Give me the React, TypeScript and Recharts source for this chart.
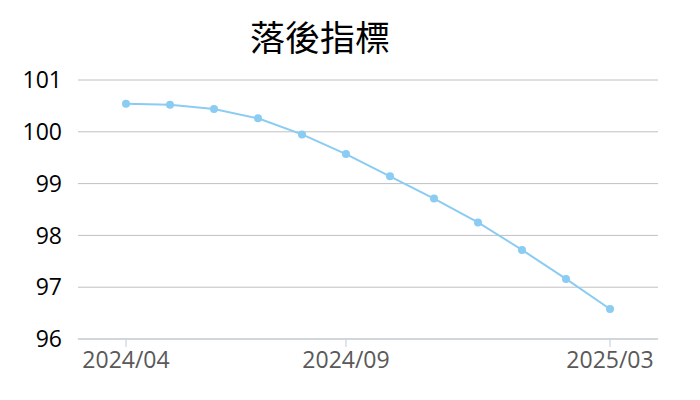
import { LineChart, Line, XAxis, YAxis, CartesianGrid } from "recharts";

const months = [
  "2024/04", "2024/05", "2024/06", "2024/07", "2024/08", "2024/09",
  "2024/10", "2024/11", "2024/12", "2025/01", "2025/02", "2025/03",
];
const lagging = [100.54, 100.52, 100.44, 100.26, 99.95, 99.57, 99.14, 98.71, 98.25, 97.72, 97.16, 96.58];
const xTicks = ["2024/04", "2024/09", "2025/03"];
const yTicks = [96, 97, 98, 99, 100, 101];

const data = months.map((m, i) => ({ month: m, value: lagging[i] }));

export default function App() {
  return (
    <div style={{ position: "absolute", left: 0, top: 0, width: 700, height: 400, background: "#fff" }}>
      <div
        style={{
          position: "absolute",
          left: 0,
          width: 640,
          top: 10,
          textAlign: "center",
          fontFamily: "'Noto Sans CJK TC', sans-serif",
          fontSize: 35,
          color: "#000",
        }}
      >
        落後指標
      </div>
      <LineChart width={700} height={400} data={data} margin={{ top: 80, right: 42, bottom: 26, left: 0 }}>
        <CartesianGrid vertical={false} stroke="#c0c0c0" />
        <XAxis
          dataKey="month"
          ticks={xTicks}
          padding={{ left: 48, right: 48 }}
          stroke="#c3cddb"
          tickSize={8}
          tickMargin={5}
          height={35}
          tick={{ fill: "#595959", fontSize: 23, fontFamily: "'Open Sans', sans-serif" }}
        />
        <YAxis
          domain={[96, 101]}
          ticks={yTicks}
          axisLine={false}
          tickLine={false}
          tickMargin={10}
          width={78}
          tick={{ fill: "#000", fontSize: 23, fontFamily: "'Open Sans', sans-serif" }}
        />
        <Line
          type="linear"
          dataKey="value"
          stroke="#8accf2"
          strokeWidth={2}
          dot={{ r: 4, fill: "#8accf2", stroke: "none" }}
          isAnimationActive={false}
        />
      </LineChart>
    </div>
  );
}
